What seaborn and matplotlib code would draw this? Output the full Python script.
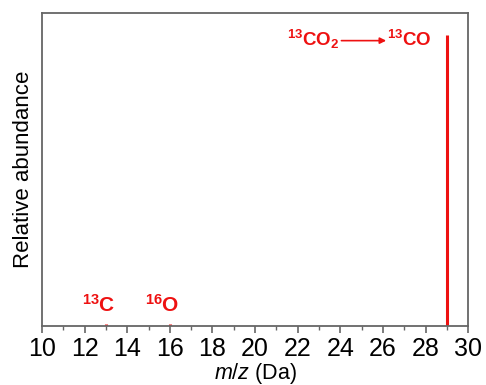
import matplotlib
matplotlib.use("Agg")
import matplotlib.pyplot as plt
import seaborn as sns
import pandas as pd

# Mass spectrum peaks (m/z in Da, relative abundance)
mz = [13, 16, 29]
abundance = [0.008, 0.008, 0.93]
x_ticks = [10, 12, 14, 16, 18, 20, 22, 24, 26, 28, 30]

df = pd.DataFrame({"mz": mz, "abundance": abundance})

sns.set_theme(style="white")
plt.rcParams["font.family"] = ["Liberation Sans", "DejaVu Sans"]
plt.rcParams["mathtext.fontset"] = "custom"
plt.rcParams["mathtext.rm"] = "Liberation Sans"
plt.rcParams["mathtext.bf"] = "Liberation Sans:bold"
plt.rcParams["mathtext.it"] = "Liberation Sans:italic"
plt.rcParams["text.color"] = "black"
plt.rcParams["axes.labelcolor"] = "black"
plt.rcParams["xtick.color"] = "black"

red = "#ee1111"
spine_col = "#666666"

fig = plt.figure(figsize=(4.86, 3.85), dpi=100)
ax = fig.add_axes([0.0864, 0.153, 0.877, 0.813])

ax.vlines(df["mz"], 0, df["abundance"], color=red, linewidth=2.2)

ax.set_xlim(10, 30)
ax.set_ylim(0, 1)
ax.set_xticks(x_ticks)
ax.set_xticks(range(11, 30, 2), minor=True)
ax.set_yticks([])
ax.tick_params(axis="x", which="major", direction="out", length=5, width=1.2,
               color=spine_col, labelcolor="black", labelsize=18, pad=3,
               bottom=True)
ax.tick_params(axis="x", which="minor", direction="out", length=3, width=1.0,
               color=spine_col, bottom=True)
for s in ax.spines.values():
    s.set_color(spine_col)
    s.set_linewidth(1.3)

ax.set_xlabel(r"$\it{m/z}$ (Da)", fontsize=15.5, labelpad=0)
ax.set_ylabel("Relative abundance", fontsize=16, labelpad=6)

ax.text(13.43, 0.045, r"$\mathbf{^{13}C}$", color=red, fontsize=15,
        ha="right", va="baseline")
ax.text(16.43, 0.045, r"$\mathbf{^{16}O}$", color=red, fontsize=15,
        ha="right", va="baseline")
ax.text(23.95, 0.895, r"$\mathbf{^{13}CO_2}$", color=red, fontsize=13.5,
        ha="right", va="baseline")
ax.text(26.2, 0.895, r"$\mathbf{^{13}CO}$", color=red, fontsize=13.5,
        ha="left", va="baseline")
ax.annotate("", xy=(26.15, 0.912), xytext=(24.05, 0.912),
            arrowprops=dict(arrowstyle="-|>", color=red, lw=1.2,
                            mutation_scale=9, shrinkA=0, shrinkB=0))

fig.savefig("out.png", dpi=100)
